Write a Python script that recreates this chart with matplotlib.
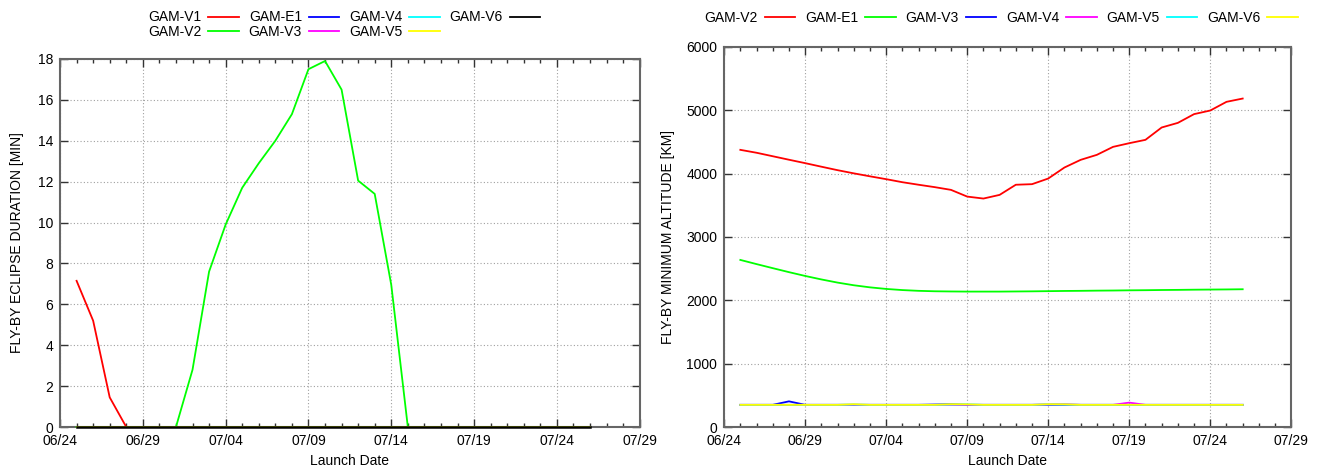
import numpy as np
import pandas as pd
import matplotlib
matplotlib.use("Agg")
import matplotlib.pyplot as plt
import matplotlib.dates as mdates

plt.rcParams['font.family'] = ['Liberation Sans', 'DejaVu Sans']
plt.rcParams['font.size'] = 10

# launch dates 06/25 .. 07/26
dates = pd.date_range('2019-06-25', '2019-07-26', freq='D')
x_start, x_end = pd.Timestamp('2019-06-24'), pd.Timestamp('2019-07-29')

# left: eclipse duration [min]
ecl_labels = ['GAM-V1', 'GAM-V2', 'GAM-E1', 'GAM-V3', 'GAM-V4', 'GAM-V5', 'GAM-V6']
ecl_v1 = [7.15, 5.2, 1.45] + [0.0] * 29
ecl_v2 = [0.0] * 7 + [2.8, 7.6, 9.9, 11.7, 12.9, 14.0, 15.3, 17.5, 17.9,
                      16.5, 12.05, 11.4, 6.95] + [0.0] * 12
ecl_e1 = [0.0] * 32
ecl_v3 = [0.0] * 32
ecl_v4 = [0.0] * 32
ecl_v5 = [0.0] * 32
ecl_v6 = [0.0] * 32

# right: minimum altitude [km]
alt_labels = ['GAM-V2', 'GAM-E1', 'GAM-V3', 'GAM-V4', 'GAM-V5', 'GAM-V6']
alt_v2 = [4376, 4330, 4275, 4220, 4166, 4110, 4055, 4005, 3958, 3913, 3865,
          3825, 3787, 3744, 3638, 3607, 3665, 3825, 3834, 3923, 4097, 4218,
          4297, 4423, 4481, 4534, 4729, 4802, 4940, 4997, 5134, 5186]
alt_e1 = [2638, 2572, 2508, 2445, 2385, 2330, 2280, 2238, 2205, 2180, 2162,
          2150, 2143, 2140, 2138, 2138, 2138, 2140, 2142, 2145, 2148, 2150,
          2153, 2155, 2158, 2160, 2163, 2165, 2168, 2170, 2172, 2175]
alt_v3 = [350, 350, 350, 405, 350, 350, 350, 350, 350, 350, 350, 350, 355,
          360, 350, 350, 350, 350, 350, 350, 350, 350, 350, 350, 350, 350,
          350, 350, 350, 350, 350, 350]
alt_v4 = [350, 350, 350, 350, 350, 350, 350, 350, 350, 350, 350, 350, 350,
          350, 350, 350, 350, 350, 350, 358, 360, 350, 350, 350, 385, 350,
          350, 350, 350, 350, 350, 350]
alt_v5 = [350, 350, 350, 350, 350, 350, 350, 355, 350, 350, 350, 350, 350,
          355, 358, 350, 350, 350, 350, 358, 355, 350, 350, 350, 350, 350,
          350, 350, 350, 350, 350, 350]
alt_v6 = [350, 350, 350, 350, 350, 350, 350, 360, 350, 350, 350, 350, 350,
          360, 358, 350, 350, 350, 350, 360, 358, 350, 350, 350, 350, 350,
          350, 350, 350, 350, 350, 350]

colors = ['#ff0000', '#00ff00', '#0000ff', '#ff00ff', '#00ffff', '#ffff00', '#000000']

fig = plt.figure(figsize=(13.19, 4.68), dpi=100)
ax1 = fig.add_axes([0.0455, 0.0876, 0.4395, 0.7864])
ax2 = fig.add_axes([0.549, 0.0876, 0.430, 0.812])


def style(ax):
    ax.set_xlim(x_start, x_end)
    ax.set_xticks(pd.date_range(x_start, x_end, freq='5D'))
    ax.set_xticks(pd.date_range(x_start, x_end, freq='D'), minor=True)
    ax.xaxis.set_major_formatter(mdates.DateFormatter('%m/%d'))
    ax.tick_params(which='both', direction='in', top=True, right=True,
                   color='#333333', width=1.0)
    ax.tick_params(which='major', length=6, labelsize=10)
    ax.tick_params(axis='x', which='major', pad=5)
    ax.tick_params(axis='y', which='major', pad=5)
    ax.tick_params(which='minor', length=3)
    ax.grid(True, which='major', color='#a0a0a0', linestyle=(0, (1, 2)), linewidth=0.8)
    for s in ax.spines.values():
        s.set_color('#666666')
        s.set_linewidth(1.5)
    ax.set_xlabel('Launch Date', labelpad=4)


leg_kw = dict(frameon=False, markerfirst=False, handlelength=2.2,
              columnspacing=0.7, handletextpad=0.5, borderaxespad=0.0,
              borderpad=0.0)

ecl = [ecl_v1, ecl_v2, ecl_e1, ecl_v3, ecl_v4, ecl_v5, ecl_v6]
lines1 = []
for lab, ys, c in zip(ecl_labels, ecl, colors):
    lw = 1.8 if c == '#000000' else 1.3
    ln, = ax1.plot(dates, ys, color=c, lw=lw, label=lab, clip_on=False, zorder=3)
    lines1.append(ln)
style(ax1)
ax1.set_ylim(0, 18)
ax1.set_yticks(range(0, 19, 2))
ax1.set_ylabel('FLY-BY ECLIPSE DURATION [MIN]', labelpad=10)
leg1 = fig.legend(handles=lines1, loc='center', bbox_to_anchor=(0.261, 0.947), ncol=4,
                  labelspacing=0.05, **leg_kw)
for h in leg1.get_lines():
    h.set_linewidth(1.3)

alt = [alt_v2, alt_e1, alt_v3, alt_v4, alt_v5, alt_v6]
lines2 = []
for lab, ys, c in zip(alt_labels, alt, colors):
    ln, = ax2.plot(dates, ys, color=c, lw=1.3, label=lab)
    lines2.append(ln)
style(ax2)
ax2.set_ylim(0, 6000)
ax2.set_yticks(range(0, 6001, 1000))
ax2.set_ylabel('FLY-BY MINIMUM ALTITUDE [KM]', labelpad=8)
fig.legend(handles=lines2, loc='center', bbox_to_anchor=(0.759, 0.962), ncol=6,
           **leg_kw)

fig.savefig('out.png', dpi=100)
